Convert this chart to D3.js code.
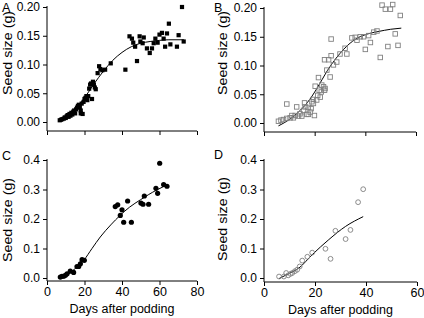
<!DOCTYPE html>
<html>
<head>
<meta charset="utf-8">
<script src="https://cdn.jsdelivr.net/npm/d3@7"></script>
<style>
  body { margin: 0; background: #fff; }
  svg text { font-family: "Liberation Sans", Arial, sans-serif; fill: #000; }
</style>
</head>
<body>
<svg id="chart" width="424" height="318"></svg>
<script>
// panel A - filled squares
const aDays = [6.8, 7.5, 8.2, 9, 9.5, 10, 10.5, 11, 11.5, 12, 12.5, 13, 13.5, 14, 14.5, 15, 15.5, 16, 16.5, 17, 17.5, 18, 18, 18.5, 19, 19.5, 20, 20.5, 21, 21.5, 22, 22.5, 23, 23.5, 24, 24.5, 25, 25.5, 26, 27, 27.8, 28.5, 29.5, 31, 34, 41.8,
  44, 45.3, 46, 47, 48, 49.4, 49.8, 51.6, 51, 53.3, 54.8, 56, 56.9, 57.8, 59, 60, 61.3, 62.2, 63, 64, 65, 65.8, 69.3, 70.2, 72, 72.9];
const aSize = [0.003, 0.004, 0.005, 0.006, 0.008, 0.007, 0.01, 0.012, 0.009, 0.014, 0.011, 0.016, 0.013, 0.018, 0.02, 0.015, 0.022, 0.025, 0.028, 0.03, 0.026, 0.02, 0.015, 0.032, 0.014, 0.035, 0.04, 0.042, 0.045, 0.038, 0.045, 0.058, 0.065, 0.067, 0.04, 0.07, 0.065, 0.06, 0.057, 0.085, 0.097, 0.092, 0.09, 0.091, 0.102, 0.091,
  0.149, 0.145, 0.138, 0.131, 0.106, 0.149, 0.14, 0.147, 0.137, 0.128, 0.12, 0.128, 0.137, 0.145, 0.138, 0.152, 0.155, 0.145, 0.131, 0.154, 0.171, 0.135, 0.131, 0.151, 0.2, 0.14];
const aFitDays = [6, 10, 15, 20, 25, 30, 35, 40, 45, 50, 55, 60, 65, 73];
const aFitSize = [0.002, 0.008, 0.022, 0.042, 0.066, 0.088, 0.107, 0.121, 0.131, 0.137, 0.14, 0.142, 0.143, 0.143];

// panel B - open squares
const bDays = [5.7, 6.7, 7.7, 9, 9, 10.3, 11, 11.6, 12.3, 12.9, 13.6, 14.2, 14.9, 15.6, 16, 16.2, 16.9, 17.5, 17.5, 18.2, 18.6, 18.9, 19.5, 19.9, 19.5, 20.2, 20.8, 21.2, 21.5, 21.8, 22.2, 22.6, 22.8, 23.5, 23.9, 24.1, 23.9, 24.8, 25.5, 26.1, 26.5, 26.5, 27.4, 28.7, 30, 32, 32.7, 34.7, 36, 36.7, 38, 39.3, 40, 41.3, 42, 43.3, 44.6, 45.9, 46.6, 47.9, 48.9, 49.9, 50.8, 51.8, 52.9, 53.8];
const bSize = [0.003, 0.005, 0.006, 0.033, 0.008, 0.009, 0.013, 0.009, 0.013, 0.028, 0.012, 0.016, 0.012, 0.022, 0.035, 0.028, 0.015, 0.027, 0.015, 0.019, 0.025, 0.037, 0.034, 0.013, 0.041, 0.064, 0.04, 0.048, 0.079, 0.057, 0.045, 0.054, 0.066, 0.063, 0.057, 0.06, 0.11, 0.092, 0.11, 0.08, 0.117, 0.146, 0.101, 0.106, 0.12, 0.13, 0.12, 0.148, 0.149, 0.144, 0.15, 0.15, 0.128, 0.152, 0.14, 0.158, 0.16, 0.114, 0.205, 0.198, 0.133, 0.198, 0.206, 0.155, 0.135, 0.187];
const bFitDays = [5.7, 10, 13.6, 17, 19, 21, 23, 25, 27, 30, 33, 37, 41, 45, 50, 54.2];
const bFitSize = [-0.005, 0.006, 0.019, 0.035, 0.047, 0.061, 0.076, 0.091, 0.104, 0.121, 0.135, 0.148, 0.155, 0.159, 0.163, 0.165];

// panel C - filled circles
const cDays = [7.1, 8, 8.9, 9.8, 10.7, 12.4, 14.2, 16, 16.9, 17.8, 18.7, 19.9, 36.4, 37.7, 39.1, 40, 40.9, 43, 45, 50.1, 51.2, 51.9, 54.2, 58.1, 59, 60.1, 62.2, 64];
const cSize = [0.003, 0.006, 0.006, 0.009, 0.014, 0.023, 0.019, 0.039, 0.039, 0.048, 0.062, 0.06, 0.242, 0.248, 0.212, 0.231, 0.189, 0.261, 0.189, 0.254, 0.25, 0.278, 0.25, 0.304, 0.287, 0.389, 0.317, 0.311];
const cFitDays = [6.2, 11.6, 15, 19.6, 24, 28.4, 34, 39.1, 44, 49.8, 54, 58.7, 64];
const cFitSize = [0, 0.014, 0.032, 0.06, 0.1, 0.139, 0.18, 0.213, 0.24, 0.265, 0.282, 0.299, 0.315];

// panel D - open circles
const dDays = [5.9, 7.8, 8.7, 9.5, 10.4, 11.1, 12.1, 13, 14, 15, 17, 18.9, 24.1, 26.1, 28, 32, 33.9, 36.9, 38.9];
const dSize = [0.005, 0.005, 0.017, 0.009, 0.014, 0.017, 0.023, 0.028, 0.039, 0.059, 0.072, 0.086, 0.099, 0.065, 0.16, 0.132, 0.163, 0.257, 0.301];
const dFitDays = [5.9, 10, 13.7, 18.9, 25.4, 32, 38.9];
const dFitSize = [-0.002, 0.016, 0.034, 0.079, 0.13, 0.175, 0.208];

const panels = [
  { label: "A", days: aDays, size: aSize, fitX: aFitDays, fitY: aFitSize, mark: "fsq",
    left: 47, right: 197, yTop: 7, yZero: 122, axisY: 131, xMax: 80, xTicks: [0, 20, 40, 60, 80],
    yMax: 0.2, yTicks: [0, 0.05, 0.1, 0.15, 0.2], fmt: ".2f", xLabels: false,
    letterX: 2, letterY: 12, titleX: 12, titleY: 53 },
  { label: "B", days: bDays, size: bSize, fitX: bFitDays, fitY: bFitSize, mark: "osq",
    left: 264, right: 416, yTop: 8, yZero: 123, axisY: 132, xMax: 60, xTicks: [0, 20, 40, 60],
    yMax: 0.2, yTicks: [0, 0.05, 0.1, 0.15, 0.2], fmt: ".2f", xLabels: false,
    letterX: 214, letterY: 12, titleX: 227, titleY: 53 },
  { label: "C", days: cDays, size: cSize, fitX: cFitDays, fitY: cFitSize, mark: "fci",
    left: 47, right: 197, yTop: 160, yZero: 278, axisY: 281, xMax: 80, xTicks: [0, 20, 40, 60, 80],
    yMax: 0.4, yTicks: [0, 0.1, 0.2, 0.3, 0.4], fmt: ".1f", xLabels: true,
    letterX: 2, letterY: 160, titleX: 12, titleY: 220 },
  { label: "D", days: dDays, size: dSize, fitX: dFitDays, fitY: dFitSize, mark: "oci",
    left: 264, right: 417, yTop: 160, yZero: 278, axisY: 282, xMax: 60, xTicks: [0, 20, 40, 60],
    yMax: 0.4, yTicks: [0, 0.1, 0.2, 0.3, 0.4], fmt: ".1f", xLabels: true,
    letterX: 214, letterY: 159, titleX: 227, titleY: 219 }
];

const svg = d3.select("#chart");

panels.forEach((p) => {
  const x = d3.scaleLinear().domain([0, p.xMax]).range([p.left, p.right]);
  const y = d3.scaleLinear().domain([0, p.yMax]).range([p.yZero, p.yTop]);
  const g = svg.append("g");

  // y axis
  const yAxisG = g.append("g")
    .attr("transform", `translate(${p.left},0)`)
    .call(d3.axisLeft(y).tickValues(p.yTicks).tickFormat(d3.format(p.fmt)).tickSize(4).tickPadding(3).tickSizeOuter(0));
  yAxisG.select(".domain").remove();
  yAxisG.selectAll("text").style("font-size", "12px");
  g.append("line")
    .attr("x1", p.left).attr("x2", p.left)
    .attr("y1", p.yTop - 1).attr("y2", p.axisY)
    .attr("stroke", "#000");

  // x axis
  const xAxisG = g.append("g")
    .attr("transform", `translate(0,${p.axisY})`)
    .call(d3.axisBottom(x).tickValues(p.xTicks).tickSize(4).tickPadding(2).tickSizeOuter(0)
      .tickFormat(p.xLabels ? d3.format("d") : ""));
  xAxisG.select(".domain").remove();
  xAxisG.selectAll("text").style("font-size", "12.5px");
  g.append("line")
    .attr("x1", p.left).attr("x2", p.right)
    .attr("y1", p.axisY).attr("y2", p.axisY)
    .attr("stroke", "#000");

  g.selectAll(".tick line").attr("stroke", "#000");

  // fitted curve
  const fit = p.fitX.map((d, i) => [d, p.fitY[i]]);
  g.append("path")
    .datum(fit)
    .attr("fill", "none")
    .attr("stroke", "#000")
    .attr("stroke-width", 1)
    .attr("d", d3.line().x((d) => x(d[0])).y((d) => y(d[1])).curve(d3.curveMonotoneX));

  // points
  const pts = p.days.map((d, i) => [d, p.size[i]]);
  if (p.mark === "fsq" || p.mark === "osq") {
    const s = p.mark === "fsq" ? 4.2 : 4.5;
    g.selectAll("rect.pt").data(pts).enter().append("rect")
      .attr("class", "pt")
      .attr("x", (d) => x(d[0]) - s / 2)
      .attr("y", (d) => y(d[1]) - s / 2)
      .attr("width", s).attr("height", s)
      .attr("fill", p.mark === "fsq" ? "#000" : "none")
      .attr("stroke", p.mark === "fsq" ? "none" : "#808080")
      .attr("stroke-width", 0.9);
  } else {
    g.selectAll("circle.pt").data(pts).enter().append("circle")
      .attr("class", "pt")
      .attr("cx", (d) => x(d[0]))
      .attr("cy", (d) => y(d[1]))
      .attr("r", p.mark === "fci" ? 2.6 : 2.4)
      .attr("fill", p.mark === "fci" ? "#000" : "none")
      .attr("stroke", p.mark === "fci" ? "none" : "#808080")
      .attr("stroke-width", 0.9);
  }

  // panel letter
  g.append("text")
    .attr("x", p.letterX)
    .attr("y", p.letterY)
    .style("font-size", "12.5px")
    .text(p.label);

  // y label (stretched a bit along its length, like the reference)
  g.append("text")
    .attr("transform", `translate(${p.titleX},${p.titleY}) rotate(-90) scale(1.1,1)`)
    .attr("text-anchor", "middle")
    .style("font-size", "13px")
    .text("Seed size (g)");

  if (p.xLabels) {
    g.append("text")
      .attr("x", (p.left + p.right) / 2)
      .attr("y", p.axisY + 32)
      .attr("text-anchor", "middle")
      .style("font-size", "12.5px")
      .text("Days after podding");
  }
});
</script>
</body>
</html>
